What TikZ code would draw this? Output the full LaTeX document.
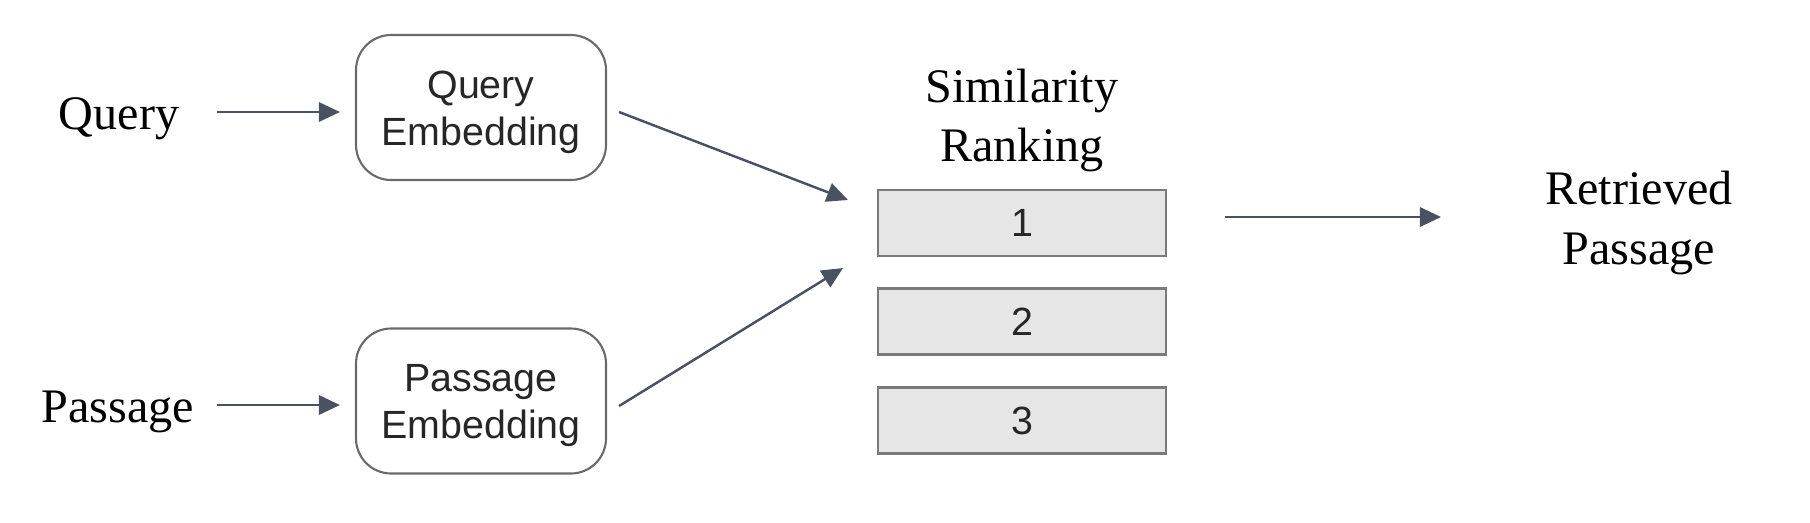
\documentclass[tikz,border=0pt]{standalone}
\usepackage{fontspec}
\setmainfont{Liberation Serif}
\setsansfont{Liberation Sans}
\usepackage{xcolor}
\usepackage{tikz}
\usetikzlibrary{arrows.meta}

\definecolor{arrowgray}{HTML}{4A5262}
\definecolor{boxline}{HTML}{6A6A6A}
\definecolor{rankfill}{HTML}{E6E6E6}
\definecolor{rankline}{HTML}{7A7A7A}

\tikzset{
    word/.style = {font=\fontsize{13.7}{17}\selectfont, align=center},
    embbox/.style = {draw=boxline, line width=0.6pt, rounded corners=10pt,
        minimum width=2.50cm, minimum height=1.45cm, align=center,
        text height=24pt, text depth=2.4pt,
        font=\sffamily\fontsize{11.2}{13.4}\selectfont, text=black!85},
    rankbox/.style = {draw=rankline, fill=rankfill, line width=0.6pt,
        minimum width=2.88cm, minimum height=0.66cm,
        font=\sffamily\fontsize{11.2}{13.4}\selectfont, text=black!85},
    arr/.style = {draw=arrowgray, line width=0.7pt,
        -{Triangle[length=6pt,width=5.5pt]}}
}

\begin{document}
\begin{tikzpicture}
            \useasboundingbox (0, 0) rectangle (18.10, -5.22);

            % inputs
            \node[word] (query) at (1.19, -1.19) {Query};
            \node[word] (passage) at (1.18, -4.12) {Passage};

            % encoders
            \node[embbox] (qemb) at (4.81, -1.075) {Query\\Embedding};
            \node[embbox] (pemb) at (4.81, -4.01) {Passage\\Embedding};

            % ranking
            \node[word] (title) at (10.22, -1.205) {Similarity\\Ranking};
            \node[rankbox] (r1) at (10.22, -2.23) {1};
            \node[rankbox] (r2) at (10.22, -3.215) {2};
            \node[rankbox] (r3) at (10.22, -4.205) {3};

            \node[word] (retr) at (16.39, -2.23) {Retrieved\\Passage};

            \coordinate (qin) at (8.48, -2.00);
            \coordinate (pin) at (8.43, -2.68);

            \draw[arr, shorten <=2.5mm, shorten >=1.5mm]
                ([yshift=0.7mm]query.east) -- ([yshift=0.7mm]query.east -| qemb.west);
            \draw[arr, shorten <=2.5mm, shorten >=1.5mm]
                ([yshift=0.7mm]passage.east -| query.east) -- ([yshift=0.7mm]passage.east -| pemb.west);
            \draw[arr] ([xshift=1.2mm, yshift=-0.45mm]qemb.east) -- (qin);
            \draw[arr] ([xshift=1.2mm, yshift=-0.5mm]pemb.east) -- (pin);
            \draw[arr, shorten <=5.8mm, shorten >=9.2mm]
                ([yshift=0.6mm]r1.east |- retr) -- ([yshift=0.6mm]retr.west);
        \end{tikzpicture}
\end{document}
